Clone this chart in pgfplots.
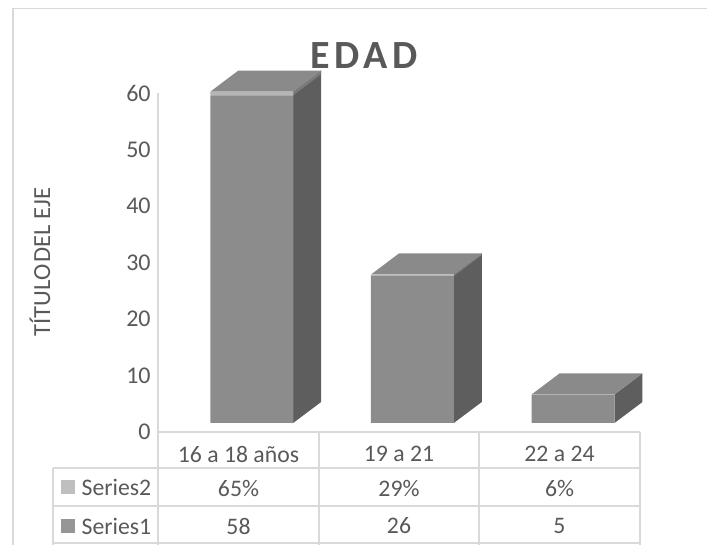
\documentclass[border=0pt]{standalone}
\usepackage{fontspec}
\setmainfont{Carlito}
\newfontfamily\titlefont[LetterSpace=12]{Carlito}
\usepackage{pgfplots}
\pgfplotsset{compat=1.18}
\definecolor{front}{HTML}{8C8C8C}
\definecolor{side}{HTML}{5E5E5E}
\definecolor{topf}{HTML}{8A8A8A}
\definecolor{slab}{HTML}{B5B5B5}
\definecolor{slabside}{HTML}{7A7A7A}
\definecolor{txt}{HTML}{595959}
\definecolor{rule}{HTML}{D9D9D9}
\pgfplotsset{chartarea/.style={
  at={(118.5pt,-324pt)}, anchor=south west,
  scale only axis,
  width=361.5pt, height=254.25pt,
  xmin=-0.5, xmax=2.5, ymin=0, ymax=60,
  clip=false,
}}
\begin{document}
\begin{tikzpicture}
\begin{scope}[x=0.75pt,y=-0.75pt]
\path[use as bounding box] (0,0) rectangle (707,545);
% frame
\draw[rule,line width=1pt] (13,545) -- (13,8.5) -- (707,8.5);
\end{scope}
% 3D faces
\begin{axis}[chartarea, hide axis]
\addplot[draw=none,fill=side] coordinates {(0.3416,1.6)(0.5155,5.32)(0.5155,63.97)(0.3416,60.25)} -- cycle;
\addplot[draw=none,fill=side] coordinates {(1.3416,1.6)(1.5155,5.32)(1.5155,31.61)(1.3416,27.89)} -- cycle;
\addplot[draw=none,fill=side] coordinates {(2.3416,1.6)(2.5155,5.32)(2.5155,10.38)(2.3416,6.66)} -- cycle;
% side of the Series2 slab
\addplot[draw=none,fill=slabside] coordinates {(0.3416,59.6)(0.5155,63.32)(0.5155,63.97)(0.3416,60.25)} -- cycle;
\addplot[draw=none,fill=slabside] coordinates {(1.3416,27.6)(1.5155,31.32)(1.5155,31.61)(1.3416,27.89)} -- cycle;
% top faces
\addplot[draw=none,fill=topf] coordinates {(-0.1739,60.25)(0,63.97)(0.5155,63.97)(0.3416,60.25)} -- cycle;
\addplot[draw=none,fill=topf] coordinates {(0.8261,27.89)(1,31.61)(1.5155,31.61)(1.3416,27.89)} -- cycle;
\addplot[draw=none,fill=topf] coordinates {(1.8261,6.66)(2,10.38)(2.5155,10.38)(2.3416,6.66)} -- cycle;
\end{axis}
% front faces
\begin{axis}[chartarea,
  axis x line=none,
  axis y line=left,
  y axis line style={rule,line width=1pt,-},
  ytick={0,10,...,60},
  major tick length=0pt,
  yticklabel style={font=\fontsize{18}{20}\selectfont,text=txt,xshift=-2pt},
  /pgf/number format/assume math mode=true,
  ybar stacked,
  bar width=62.25pt,
  bar shift=10.1pt,
]
% floor offset of the 3D box, not drawn
\addplot[draw=none,fill=none] coordinates {(0,1.6)(1,1.6)(2,1.6)};
% Series1
\addplot[draw=none,fill=front] coordinates {(0,58)(1,26)(2,5)};
% Series2 (65%, 29%, 6%)
\addplot[draw=none,fill=slab] coordinates {(0,0.65)(1,0.29)(2,0.06)};
\end{axis}
\begin{scope}[x=0.75pt,y=-0.75pt]
% title and axis label
\node[text=txt,font=\titlefont\bfseries\fontsize{30}{32}\selectfont] at (364,56) {EDAD};
\node[text=txt,rotate=90,font=\fontsize{18.4}{20}\selectfont] at (40,262) {TÍTULO\hspace{0.1em}DEL EJE};
% data table
\draw[rule,line width=1pt]
  (158,432) -- (640,432)
  (53,468) -- (640,468)
  (53,506) -- (640,506)
  (53,543) -- (640,543)
  (53,468) -- (53,545)
  (158,432) -- (158,545)
  (319,432) -- (319,545)
  (479,432) -- (479,545)
  (640,432) -- (640,545);
\fill[fill=black!25] (61,480) rectangle (75,494);
\fill[fill=black!41] (61,519) rectangle (75,533);
\begin{scope}[every node/.style={text=txt,font=\fontsize{17.8}{20}\selectfont}]
\node[anchor=west] at (77,487) {Series2};
\node[anchor=west] at (77,526) {Series1};
\node at (238.5,454) {16 a 18 años};
\node at (399,454) {19 a 21};
\node at (559.5,454) {22 a 24};
\node at (238.5,488) {65\%};
\node at (399,488) {29\%};
\node at (559.5,488) {6\%};
\node at (238.5,526) {58};
\node at (399,526) {26};
\node at (559.5,526) {5};
\end{scope}
\end{scope}
\end{tikzpicture}
\end{document}
